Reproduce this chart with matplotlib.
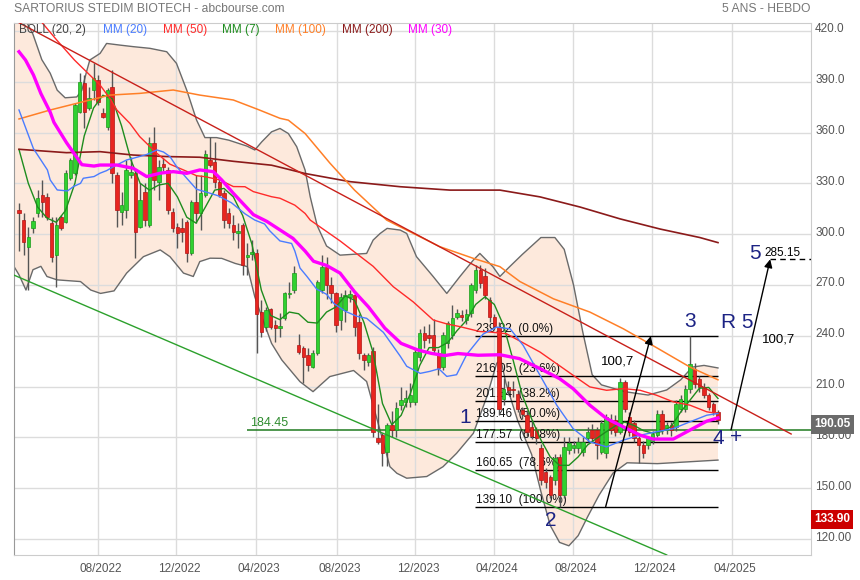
import numpy as np
import matplotlib.pyplot as plt
from matplotlib.transforms import ScaledTranslation, blended_transform_factory

plt.rcParams['font.family'] = ['Liberation Sans', 'DejaVu Sans']

#==========Weekly candles, Apr 2022 -> Mar 2025==========
opens = [314.5, 308.4, 292.6, 303.9, 312.3, 323.1, 322.2, 306.4, 287.7, 310.3,
         307.4, 333.0, 336.0, 372.3, 389.0, 374.3, 385.1, 391.0, 371.3, 363.5,
         387.1, 335.0, 313.3, 314.3, 335.0, 335.9, 304.4, 325.1, 305.4, 353.6,
         331.0, 341.2, 337.9, 313.3, 304.4, 303.5, 307.4, 288.7, 319.2, 312.3,
         323.0, 343.7, 342.7, 330.9, 324.0, 312.2, 305.3, 300.8, 305.3, 286.5,
         288.3, 288.6, 254.2, 245.4, 255.6, 246.3, 244.5, 250.3, 264.8, 267.0,
         234.5, 232.6, 228.6, 221.7, 229.6, 267.0, 280.8, 270.0, 265.0, 249.3,
         255.0, 263.0, 264.0, 248.0, 228.6, 224.7, 231.0, 179.5, 181.4, 171.6,
         187.3, 184.4, 199.1, 201.1, 201.1, 201.1, 227.7, 241.4, 240.4, 240.4,
         229.6, 221.8, 235.5, 240.4, 251.3, 252.2, 249.3, 253.2, 267.0, 278.8,
         275.0, 261.1, 251.0, 245.0, 202.9, 209.8, 208.8, 205.9, 196.0, 193.1,
         186.0, 184.3, 173.5, 159.7, 156.8, 155.0, 168.6, 146.0, 172.5, 173.5,
         173.5, 171.5, 179.4, 184.3, 184.3, 171.5, 170.5, 190.2, 190.2, 183.3,
         212.7, 192.1, 188.2, 179.4, 175.4, 175.4, 178.0, 181.3, 194.1, 184.3,
         187.2, 186.2, 197.0, 197.0, 208.8, 220.6, 214.7, 209.8, 204.9, 200.0,
         195.0]
highs = [318.2, 312.3, 304.4, 310.3, 326.1, 331.9, 324.1, 310.3, 310.3, 311.3,
         337.9, 344.8, 377.2, 394.9, 394.0, 387.1, 400.8, 394.0, 374.3, 386.1,
         396.9, 336.9, 325.1, 343.8, 345.8, 337.9, 330.0, 330.0, 357.6, 363.5,
         343.8, 344.8, 339.9, 315.3, 306.4, 309.4, 308.4, 320.2, 334.9, 334.9,
         349.7, 357.5, 354.5, 332.9, 326.0, 315.2, 311.2, 306.3, 306.3, 294.5,
         296.5, 291.0, 261.1, 257.2, 256.2, 249.3, 253.2, 266.0, 271.9, 281.0,
         241.0, 234.0, 232.6, 231.6, 272.9, 287.6, 286.7, 274.9, 266.0, 265.0,
         267.0, 267.0, 265.0, 253.0, 229.6, 229.6, 233.5, 200.0, 182.4, 188.3,
         195.3, 201.0, 210.0, 208.0, 212.0, 232.0, 244.0, 246.0, 247.0, 250.0,
         232.0, 242.0, 249.0, 258.0, 256.0, 255.0, 256.0, 271.0, 282.0, 282.0,
         280.0, 263.0, 253.0, 248.0, 215.0, 213.0, 213.0, 208.0, 198.0, 196.0,
         190.0, 186.0, 176.0, 162.0, 158.0, 170.0, 170.0, 180.0, 180.0, 178.0,
         180.0, 180.0, 186.0, 188.0, 186.0, 190.0, 194.0, 194.0, 193.0, 215.0,
         214.0, 195.0, 190.0, 181.0, 178.0, 181.0, 184.0, 196.0, 196.0, 189.0,
         189.0, 202.0, 205.0, 211.0, 239.82, 224.0, 216.0, 212.0, 206.0, 201.0,
         196.0]
lows = [290.0, 287.7, 267.0, 300.5, 310.3, 310.3, 308.4, 283.8, 269.0, 302.5,
        306.4, 332.0, 335.0, 371.3, 362.5, 373.3, 379.2, 376.2, 368.4, 361.5,
        330.0, 304.4, 305.4, 309.4, 333.0, 285.8, 303.5, 305.0, 304.4, 326.1,
        320.2, 337.0, 312.0, 301.5, 291.7, 295.6, 283.8, 287.7, 306.4, 302.5,
        322.2, 339.9, 327.0, 322.0, 303.4, 303.4, 296.5, 291.6, 275.8, 276.0,
        285.0, 229.6, 239.4, 243.0, 244.0, 236.5, 239.4, 249.3, 262.1, 265.0,
        229.0, 211.9, 219.0, 220.7, 228.6, 265.0, 262.0, 259.1, 242.4, 243.4,
        248.0, 260.0, 240.0, 226.0, 219.8, 222.0, 180.0, 176.0, 163.0, 163.0,
        180.0, 180.4, 196.0, 198.0, 198.0, 199.0, 225.0, 233.0, 236.0, 229.0,
        217.0, 220.0, 233.0, 238.0, 250.0, 249.0, 247.0, 251.0, 265.0, 268.0,
        262.0, 248.0, 244.0, 193.0, 199.0, 205.0, 204.0, 195.0, 191.0, 181.0,
        179.0, 176.0, 152.0, 150.0, 144.0, 152.0, 139.1, 144.0, 170.0, 171.0,
        171.0, 169.0, 177.0, 177.0, 167.0, 170.0, 168.0, 182.0, 181.0, 182.0,
        195.0, 181.0, 177.0, 165.0, 168.0, 173.0, 176.0, 180.0, 182.0, 182.0,
        181.0, 184.0, 195.0, 195.0, 206.0, 209.0, 207.0, 203.0, 196.0, 193.0,
        188.0]
closes = [312.7, 295.6, 298.5, 307.8, 321.2, 319.2, 310.3, 286.7, 305.4, 303.5,
          336.0, 343.8, 376.2, 390.0, 372.3, 380.2, 392.0, 378.2, 369.4, 385.1,
          335.9, 314.3, 317.3, 337.9, 336.5, 301.5, 320.2, 308.4, 353.6, 332.0,
          339.9, 339.5, 314.3, 303.5, 300.5, 301.5, 288.7, 319.2, 312.3, 324.1,
          347.6, 340.7, 330.9, 323.0, 308.3, 306.3, 301.4, 302.0, 281.7, 287.8,
          289.6, 252.8, 242.4, 255.2, 245.4, 244.4, 245.5, 265.0, 265.4, 276.8,
          230.6, 227.7, 222.7, 229.6, 271.9, 280.8, 270.0, 265.5, 246.3, 263.0,
          264.0, 264.8, 245.0, 229.6, 225.7, 228.6, 183.0, 177.5, 170.6, 187.3,
          184.4, 197.2, 202.1, 203.0, 205.0, 230.6, 241.4, 237.5, 238.5, 231.6,
          220.8, 240.4, 247.3, 250.3, 253.2, 250.9, 252.8, 269.9, 279.0, 270.9,
          264.0, 251.3, 246.0, 197.0, 208.8, 207.8, 207.8, 197.0, 194.1, 183.3,
          181.0, 179.4, 154.8, 153.8, 146.0, 167.6, 146.0, 174.4, 176.4, 175.4,
          177.4, 177.4, 183.3, 179.4, 175.4, 188.2, 192.1, 184.3, 183.3, 212.7,
          197.0, 183.3, 179.4, 175.4, 170.5, 179.4, 182.0, 194.1, 184.3, 187.2,
          184.3, 200.0, 202.9, 208.8, 223.5, 211.7, 209.8, 204.9, 198.0, 195.0,
          190.05]

#==========Indicators (x = week index)==========
mm7 = [350, 330, 316, 309.5, 307, 314, 330, 358, 374.5, 382, 380, 364, 344, 330,
       326, 329, 330, 322, 310, 306.5, 316, 326, 327, 322, 311, 294, 267, 252,
       249.5, 254, 253, 248, 247.5, 254, 257, 263.5, 261, 248, 230, 200, 187.5,
       193, 206, 222.5, 233, 233, 236, 243, 249, 258.5, 263, 258.5, 246, 226,
       205, 191, 178.5, 168.5, 163.5, 163.5, 168.5, 175.5, 179.5, 183.3, 186.8,
       189, 187, 184, 182.5, 183.5, 186.5, 195, 202, 209, 209.5, 203]

mm20 = [(0, 373.3), (3.1, 350.5), (6.1, 337.9), (6.7, 332), (8.2, 326.1), (10.4, 325.5),
        (11.7, 328.1), (13.2, 330), (13.8, 333), (16.1, 334), (17.4, 336), (18.8, 337.5),
        (20.4, 340), (23.1, 343.8), (24.5, 344.8), (27.4, 347), (29.6, 349.7), (31, 348.5),
        (32.4, 345.8), (33.8, 340), (36, 333), (38.1, 326.5), (40, 325), (42.8, 322.6),
        (45.6, 318.5), (48.5, 312), (50.6, 308.3), (52.7, 306), (53.8, 302), (56, 296),
        (58.5, 294.5), (59.2, 290), (60.3, 280), (61.8, 275), (63.9, 267.5), (66, 264.5),
        (67.6, 259), (70, 254.5), (72.5, 251.5), (74.6, 250.3), (78.2, 242), (80, 235),
        (81.8, 228), (83.2, 222), (86.1, 217.8), (88.2, 219), (90.1, 220.5), (91.8, 216),
        (93.9, 217), (96.1, 229), (99.6, 241), (102.5, 245.1), (105.4, 244.1), (108.2, 234.3),
        (111.8, 216.7), (115.4, 199), (118.9, 185.2), (122.5, 177.4), (126.1, 174.4),
        (129.7, 178.4), (133.3, 181.3), (136.8, 183.3), (140.4, 185.2), (144, 189.2),
        (147.6, 193.1), (150, 194.1)]

mm30 = [(0, 407.7), (1.4, 402.8), (3.1, 394), (4.7, 383), (6.7, 372), (7.5, 366),
        (10.2, 354), (13.5, 341), (16.1, 340.2), (17.4, 340.8), (21, 340.8), (24.5, 338.9),
        (27.4, 334), (30.3, 336), (33.1, 336.9), (36, 335.9), (38.8, 337.9), (41.7, 336.9),
        (43.5, 332), (46, 324.1), (50.3, 311.5), (53.2, 307.5), (56, 302.5), (58.8, 297.5),
        (61.4, 290), (63.2, 284), (66, 281.5), (68.9, 277), (72, 266), (75, 257),
        (78.5, 244.5), (82, 235.5), (85.6, 231.6), (88.5, 229.6), (91.3, 228.3),
        (94.2, 229.5), (98.5, 228.5), (103.2, 228.8), (107.4, 226.5), (111.8, 220.6),
        (116, 214.7), (118.9, 208.8), (122.5, 199), (126.1, 191.1), (129.7, 186.2),
        (133.3, 181.3), (136.1, 179), (140.4, 179), (143.3, 183.3), (147.6, 189.6), (150, 191.5)]

mm50 = [(-1.1, 442), (4, 428), (8.1, 414.6), (11.9, 402.8), (17.4, 388), (19.5, 380.2),
        (21, 373.3), (23.8, 365.4), (25.9, 357.6), (28.1, 351.7), (29.6, 347.7), (32.4, 341.3),
        (35.3, 337.9), (38.1, 334.5), (40, 333.9), (43.1, 332), (46, 328.1), (48.5, 328),
        (50.3, 325.1), (54.2, 322.1), (56, 321.2), (59.2, 317.1), (61.4, 312.2), (62.5, 308.3),
        (68.9, 296), (76, 281), (80.3, 269), (84.6, 260), (88.9, 249.3), (91.8, 247),
        (94.6, 245.4), (98.9, 242.5), (101.1, 242.2), (104.6, 241.2), (111.8, 230.4),
        (118.9, 216.7), (122.5, 209.8), (126.1, 207.8), (129.7, 208.8), (133.3, 207.8),
        (136.8, 204.9), (140.4, 201), (144, 199), (147.6, 195.1), (150, 194.1)]

mm100 = [(0, 368), (6.7, 373.3), (13.8, 378.2), (19.5, 382.1), (25.9, 383.1), (33.1, 385.1),
         (38.8, 382.1), (46, 379.2), (51.4, 373.5), (56, 368.4), (57.8, 367.3), (61.4, 359.4),
         (66.7, 342), (72, 326), (78.9, 308.3), (90.3, 292.6), (97.5, 285.7), (103.2, 280.8),
         (107.5, 272), (114.7, 261.8), (122.5, 254), (129.7, 244.1), (136.8, 233),
         (144, 221.5), (150, 214)]

mm200 = [(0, 350.1), (10.2, 348.1), (17.4, 348.7), (24.5, 346.7), (31.7, 345.8), (38.8, 345.4),
         (46, 343), (54.2, 340.7), (56, 339.5), (61.4, 335.8), (71, 331), (81.8, 328),
         (92.5, 326), (103.2, 326), (111.8, 322), (120.4, 316), (129, 309), (137.6, 303),
         (146.1, 298), (150, 295)]

boll_up = [(-1.1, 440), (3, 418), (4.9, 403), (6.7, 395), (8.2, 385), (9.9, 380.5), (12.4, 381),
           (13.5, 385), (14.5, 396), (15.2, 402.8), (17.4, 406.7), (18.8, 412.6), (21.7, 411.6),
           (24.5, 410.7), (28.1, 409.7), (31.7, 407.7), (33.8, 400.8), (36, 385), (38.1, 367.4),
           (39.9, 357), (42.4, 357), (45, 355.5), (48.9, 352), (50.6, 349.7), (52.1, 354.5),
           (54.2, 360.4), (56, 362.4), (57.8, 359.4), (59.6, 351.6), (61.4, 337.8), (62.5, 322),
           (64, 305), (66, 293), (68.9, 287.6), (74.6, 288.6), (76, 296.5), (77.5, 300.4),
           (79, 303.4), (81.8, 302.4), (83.2, 300.4), (85.3, 286.7), (88.9, 274.9), (91.8, 265),
           (94.6, 274.9), (97.5, 284.7), (98.9, 288.6), (101.7, 280.8), (103.2, 275), (105, 280),
           (108, 288), (112, 298), (115, 298), (117, 291), (119, 270), (121, 242), (123, 217),
           (125, 211), (130, 207), (135, 205), (139, 208), (142, 214), (144.5, 221.5),
           (147, 222.5), (150, 221)]

boll_low = [(-1.1, 281), (0, 276), (1.5, 267), (3, 279), (4.7, 281), (6, 275), (8.2, 273),
            (13.2, 272), (15.4, 267), (17.5, 265), (20.4, 266.5), (23.1, 277), (26.7, 286.7),
            (30.3, 290.7), (32.4, 286.7), (35.3, 277), (37.4, 275), (38.8, 283.8), (41, 285.8),
            (43.5, 285.7), (46.4, 282.7), (49, 280.8), (50.6, 263), (52.1, 251.2), (54.2, 235.5),
            (56.4, 225.7), (60.3, 212.9), (63.1, 207), (66.7, 215.9), (71.8, 219.5), (74.6, 213),
            (77.5, 184), (79.6, 162.7), (81.1, 158.8), (83.2, 155.9), (87.5, 156.9), (91, 162.7),
            (93.9, 170.6), (97.5, 182.4), (100.4, 204), (102.5, 223.7), (103.4, 226),
            (104.5, 212), (107, 190), (110, 170), (112, 148), (114, 128), (116, 118), (118, 116),
            (120, 122), (122, 133), (124.5, 146), (127.5, 159), (130.5, 165), (137, 164.5),
            (150, 166.6)]

#==========Drawings on the chart==========
trend_top = [(-1.07, 426.4), (165.7, 182.0)]
trend_bottom = [(-1.07, 275.8), (139.0, 110.6)]
support = 184.45
fib_levels = [239.82, 216.05, 201.34, 189.46, 177.57, 160.65, 139.10]
fib_pcts = ['0.0%', '23.6%', '38.2%', '50.0%', '61.8%', '78.6%', '100.0%']
target = 285.15
low_mark = 133.90

date_ticks = [17.0, 33.8, 50.9, 68.2, 85.0, 101.9, 118.9, 135.8, 153.0]
date_labels = ['08/2022', '12/2022', '04/2023', '08/2023', '12/2023',
               '04/2024', '08/2024', '12/2024', '04/2025']
price_ticks = [120, 150, 180, 210, 240, 270, 300, 330, 360, 390, 420]
price_labels = ['120.00', '150.00', '180.00', '210.0', '240.0', '270.0',
                '300.0', '330.0', '360.0', '390.0', '420.0']

#==========Figure and axes==========
fig = plt.figure(figsize=(8.6, 5.8), dpi=100)
ax = fig.add_axes([14 / 860, 25 / 580, 797 / 860, 532 / 580])
ax.set_xlim(-1.07, 169.96)
ax.set_ylim(110.56, 424.66)

ax.set_yticks(price_ticks)
ax.set_yticklabels(price_labels)
ax.yaxis.tick_right()
ax.set_xticks(date_ticks)
ax.set_xticklabels(date_labels)
ax.tick_params(axis='both', length=0, labelsize=8.5, labelcolor='#555555')
ax.tick_params(axis='y', pad=3)
ax.tick_params(axis='x', pad=6)
ax.grid(True, color='#dcdcdc', lw=1)
ax.set_axisbelow(True)
for s in ax.spines.values():
    s.set_color('#cccccc')
ax.spines['left'].set_color('#999999')

up_shift = ScaledTranslation(0, 3 / 100, fig.dpi_scale_trans)
for t in ax.get_yticklabels():
    t.set_transform(t.get_transform() + up_shift)
right_shift = ScaledTranslation(3 / 100, 0, fig.dpi_scale_trans)
for t in ax.get_xticklabels():
    t.set_transform(t.get_transform() + right_shift)

#==========Bollinger band==========
ux, uy = np.array(boll_up).T
lx, ly = np.array(boll_low).T
ax.fill(np.r_[ux, lx[::-1]], np.r_[uy, ly[::-1]], color='#fde9dc', lw=0, zorder=0.2)
ax.plot(ux, uy, color='#6a6a6a', lw=1, zorder=2)
ax.plot(lx, ly, color='#6a6a6a', lw=1, zorder=2)

#==========Fibonacci retracement + support==========
ax.hlines(fib_levels, 97.9, 150, colors='black', lw=1, zorder=3)
txt_up = ax.transData + ScaledTranslation(0, 1 / 100, fig.dpi_scale_trans)
for lvl, pct in zip(fib_levels, fib_pcts):
    ax.text(98.1, lvl, f'{lvl:.2f}  ({pct})', transform=txt_up, fontsize=8.5,
            va='bottom', ha='left', color='#111111', zorder=3.5)
ax.hlines(support, 48.9, 170, colors='#1f7a1f', lw=1.1, zorder=3)
ax.text(49.5, support, f'{support:.2f}', transform=txt_up, fontsize=9,
        va='bottom', ha='left', color='#2e8b2e', zorder=3.5)

#==========Candles==========
o, h, l, c = map(np.array, (opens, highs, lows, closes))
x = np.arange(len(c))
up = c >= o
ax.vlines(x, l, h, color='#555555', lw=1, zorder=4)
ax.bar(x[up], (c - o)[up], bottom=o[up], width=0.74, color='#2fd12f',
       edgecolor='#1a991a', lw=0.5, zorder=5)
ax.bar(x[~up], (o - c)[~up], bottom=c[~up], width=0.74, color='#e8251f',
       edgecolor='#b01414', lw=0.5, zorder=5)

#==========Moving averages==========
ax.plot(np.arange(0, len(c), 2), mm7, color='#1e8c1e', lw=1, zorder=6)
for pts, col, lw in [(mm200, '#8b1a1a', 1.2), (mm100, '#ff7f27', 1.1),
                     (mm50, '#ff2a2a', 1), (mm20, '#4a7cff', 1), (mm30, '#ff00ff', 2.4)]:
    px, py = np.array(pts).T
    ax.plot(px, py, color=col, lw=lw, zorder=6)

#==========Trend lines==========
for pts, col in [(trend_top, '#c8201a'), (trend_bottom, '#2ca02c')]:
    px, py = np.array(pts).T
    ax.plot(px, py, color=col, lw=1, zorder=6)

#==========Projection arrows and labels==========
arrow = dict(arrowstyle='-|>', color='black', lw=1, mutation_scale=12, shrinkA=0, shrinkB=0)
ax.annotate('', xy=(135.6, fib_levels[0]), xytext=(125.9, fib_levels[-1]), arrowprops=arrow, zorder=7)
ax.annotate('', xy=(161.2, target), xytext=(152.8, support), arrowprops=arrow, zorder=7)
ax.text(128.5, 225.1, '100,7', fontsize=9.5, ha='center', va='center', zorder=7)
ax.text(162.9, 237.5, '100,7', fontsize=9.5, ha='center', va='center', zorder=7)
ax.hlines(target, 161.2, 170, colors='black', linestyles=(0, (4, 3)), lw=1, zorder=7)
ax.text(159.9, 288.6, f'{target:.2f}', fontsize=8.5, ha='left', va='center', zorder=7)

navy = '#1c2384'
for s, xi, yi in [('1', 95.7, 192), ('2', 114.1, 131.2), ('3', 144.1, 248.7),
                  ('4', 150.0, 179.6), ('+', 153.9, 180.2), ('R 5', 154.1, 248.1),
                  ('5', 157.9, 288.8)]:
    ax.text(xi, yi, s, fontsize=15, color=navy, ha='center', va='center', zorder=8)

#==========Legend row==========
legend = [('BOLL (20, 2)', '#444444'), ('MM (20)', '#4a7cff'), ('MM (50)', '#ff2a2a'),
          ('MM (7)', '#1e8c1e'), ('MM (100)', '#ff7f27'), ('MM (200)', '#8b1a1a'),
          ('MM (30)', '#ff00ff')]
legend_x = [0.0067, 0.112, 0.1866, 0.2614, 0.3275, 0.4112, 0.4947]
for (lab, col), lx_ in zip(legend, legend_x):
    ax.text(lx_, 0.9868, lab, transform=ax.transAxes, fontsize=8.5, color=col,
            ha='left', va='center', zorder=9)

#==========Price boxes on the right==========
box_trans = blended_transform_factory(ax.transAxes, ax.transData) + \
    ScaledTranslation(0, -4 / 100, fig.dpi_scale_trans)
for val, fc in [(closes[-1], '#6b6b6b'), (low_mark, '#cc0000')]:
    ax.text(1.0 + 3 / 797, val, f'{val:.2f}', transform=box_trans, fontsize=8.5,
            color='white', fontweight='bold', ha='left', va='center', clip_on=False,
            bbox=dict(boxstyle='square,pad=0.28', fc=fc, ec='none'), zorder=10)

#==========Titles==========
fig.text(14 / 860, 1 - 9 / 580, 'SARTORIUS STEDIM BIOTECH - abcbourse.com',
         fontsize=8.7, color='#777777', ha='left', va='center')
fig.text(810 / 860, 1 - 9 / 580, '5 ANS - HEBDO', fontsize=8.7, color='#777777',
         ha='right', va='center')

fig.savefig('out.png', dpi=100)
